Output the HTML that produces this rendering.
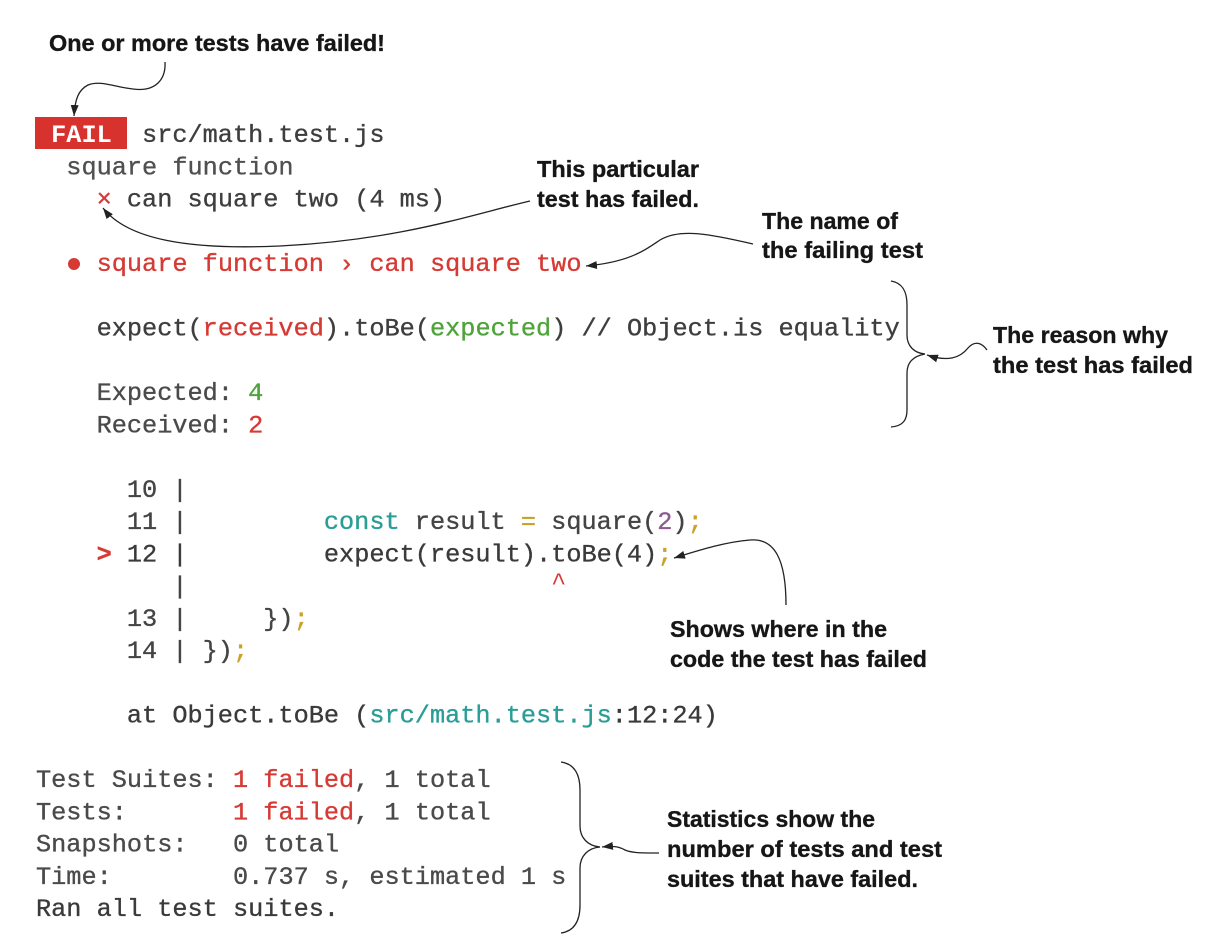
<!DOCTYPE html>
<html>
<head>
<meta charset="utf-8">
<style>
  html, body { margin: 0; padding: 0; background: #ffffff; }
  body { width: 1216px; height: 950px; overflow: hidden; }
  svg { display: block; }
  .m { font-family: "Liberation Mono", monospace; font-size: 25.25px; fill: #444444; white-space: pre; stroke: currentColor; stroke-width: 0; }
  .lbl { font-family: "Liberation Sans", sans-serif; font-weight: bold; font-size: 23.5px; fill: #161616; stroke: #161616; stroke-width: 0.35; }
  .r { fill: #d63a35; }
  .g { fill: #4ea43a; }
  .t { fill: #2a9d96; }
  .y { fill: #c9a227; }
  .p { fill: #8e5b8e; }
  .ln { fill: none; stroke: #222; stroke-width: 1.3; }
  .th { stroke-width: 0.35; }
</style>
</head>
<body>
<svg width="1216" height="950" viewBox="0 0 1216 950" xmlns="http://www.w3.org/2000/svg" xml:space="preserve">
  <defs>
    <marker id="ah" markerUnits="userSpaceOnUse" markerWidth="11" markerHeight="8" refX="11" refY="4" orient="auto">
      <path d="M0,0 L11,4 L0,8 z" fill="#222"/>
    </marker>
  </defs>

  <!-- Annotation labels -->
  <text class="lbl" x="49" y="51" font-size="25.5" textLength="336" lengthAdjust="spacingAndGlyphs">One or more tests have failed!</text>

  <text class="lbl" x="537" y="177" textLength="162" lengthAdjust="spacingAndGlyphs">This particular</text>
  <text class="lbl" x="537" y="207" textLength="162" lengthAdjust="spacingAndGlyphs">test has failed.</text>

  <text class="lbl" x="762" y="229" textLength="136" lengthAdjust="spacingAndGlyphs">The name of</text>
  <text class="lbl" x="762" y="258" textLength="161" lengthAdjust="spacingAndGlyphs">the failing test</text>

  <text class="lbl" x="993" y="343" textLength="175" lengthAdjust="spacingAndGlyphs">The reason why</text>
  <text class="lbl" x="993" y="373" textLength="200" lengthAdjust="spacingAndGlyphs">the test has failed</text>

  <text class="lbl" x="670" y="637" textLength="217" lengthAdjust="spacingAndGlyphs">Shows where in the</text>
  <text class="lbl" x="670" y="667" textLength="257" lengthAdjust="spacingAndGlyphs">code the test has failed</text>

  <text class="lbl" x="667" y="827" textLength="208" lengthAdjust="spacingAndGlyphs">Statistics show the</text>
  <text class="lbl" x="667" y="857" textLength="275" lengthAdjust="spacingAndGlyphs">number of tests and test</text>
  <text class="lbl" x="667" y="887" textLength="251" lengthAdjust="spacingAndGlyphs">suites that have failed.</text>

  <!-- FAIL badge -->
  <rect x="35" y="117" width="92" height="32" fill="#d8322e"/>
  <text class="m" x="51.15" y="142" style="fill:#ffffff;font-weight:bold">FAIL</text>
  <text class="m th" x="142.05" y="142" style="fill:#3e3e3e;stroke:#3e3e3e">src/math.test.js</text>

  <!-- line 1 -->
  <text class="m th" x="66.3" y="174.25" style="fill:#505050;stroke:#505050">square function</text>
  <!-- line 2 -->
  <text class="m th" x="96.6" y="206.5" style="fill:#3e3e3e;stroke:#3e3e3e"><tspan class="r" style="stroke:#d63a35">×</tspan> can square two (4 ms)</text>

  <!-- line 4 -->
  <circle cx="74" cy="264" r="6" fill="#d63a35"/>
  <text class="m r th" x="96.6" y="271" style="stroke:#d63a35">square function › can square two</text>

  <!-- line 6 -->
  <text class="m th" x="96.6" y="335.5" style="fill:#3e3e3e;stroke:#3e3e3e">expect(<tspan class="r" style="stroke:#d63a35">received</tspan>).toBe(<tspan class="g" style="stroke:#4ea43a">expected</tspan>) // Object.is equality</text>

  <!-- lines 8-9 -->
  <text class="m th" x="96.6" y="400" style="fill:#4a4a4a;stroke:#4a4a4a">Expected: <tspan class="g" style="stroke:#4ea43a">4</tspan></text>
  <text class="m th" x="96.6" y="432.25" style="fill:#4a4a4a;stroke:#4a4a4a">Received: <tspan class="r" style="stroke:#d63a35">2</tspan></text>

  <!-- code frame -->
  <text class="m th" x="126.9" y="496.75" style="fill:#444;stroke:#444">10 |</text>
  <text class="m th" x="126.9" y="529" style="fill:#444;stroke:#444">11 |         <tspan class="t" style="stroke:#2a9d96">const</tspan> result <tspan class="y" style="stroke:#c9a227">=</tspan> square(<tspan class="p" style="stroke:#8e5b8e">2</tspan>)<tspan class="y" style="stroke:#c9a227">;</tspan></text>
  <text class="m th" x="96.6" y="561.25" style="fill:#3a3a3a;stroke:#3a3a3a"><tspan class="r" font-weight="bold" style="stroke:#d63a35">&gt;</tspan> 12 |         expect(result).toBe(4)<tspan class="y" style="stroke:#c9a227">;</tspan></text>
  <text class="m th" x="172.35" y="593.5" style="fill:#444;stroke:#444">|</text>
  <text class="m r" x="551.1" y="590" font-size="20">^</text>
  <text class="m th" x="126.9" y="625.75" style="fill:#444;stroke:#444">13 |     })<tspan class="y" style="stroke:#c9a227">;</tspan></text>
  <text class="m th" x="126.9" y="658" style="fill:#444;stroke:#444">14 | })<tspan class="y" style="stroke:#c9a227">;</tspan></text>

  <!-- line 18 -->
  <text class="m th" x="126.9" y="722.5" style="fill:#3a3a3a;stroke:#3a3a3a">at Object.toBe (<tspan class="t" style="stroke:#2a9d96">src/math.test.js</tspan>:12:24)</text>

  <!-- stats -->
  <text class="m th" x="36" y="787" style="fill:#4a4a4a;stroke:#4a4a4a">Test Suites: <tspan class="r" style="stroke:#d63a35">1 failed</tspan>, 1 total</text>
  <text class="m th" x="36" y="819.25" style="fill:#4a4a4a;stroke:#4a4a4a">Tests:       <tspan class="r" style="stroke:#d63a35">1 failed</tspan>, 1 total</text>
  <text class="m th" x="36" y="851.5" style="fill:#4a4a4a;stroke:#4a4a4a">Snapshots:   0 total</text>
  <text class="m th" x="36" y="883.75" style="fill:#4a4a4a;stroke:#4a4a4a">Time:        0.737 s, estimated 1 s</text>
  <text class="m th" x="36" y="916" style="fill:#3a3a3a;stroke:#3a3a3a">Ran all test suites.</text>

  <!-- Connectors -->
  <path class="ln" marker-end="url(#ah)" d="M165,62 C166,80 155,92 133,89 C115,87 100,80 88,85 C78,90 75,100 74,116"/>
  <path class="ln" marker-end="url(#ah)" d="M530,201 C470,215 400,240 280,246 C190,250 128,240 103,208"/>
  <path class="ln" marker-end="url(#ah)" d="M753,244 C710,234 680,228 660,240 C645,250 630,262 586,266"/>
  <path class="ln" marker-end="url(#ah)" d="M987,350 C982,343 975,340 968,348 C960,358 948,362 927,355"/>
  <path class="ln" marker-end="url(#ah)" d="M786,605 C786,560 775,538 750,540 C725,542 700,550 674,558"/>
  <path class="ln" marker-end="url(#ah)" d="M659,853 C640,853 632,853 625,850 C618,846 612,846 602,847"/>

  <!-- Braces -->
  <path class="ln" d="M891,281 C903,283 907,292 907,305 L907,335 C907,346 914,353 925,354 C914,356 907,362 907,373 L907,410 C907,420 903,426 891,427"/>
  <path class="ln" d="M561,762 C575,764 580,775 580,790 L580,826 C580,838 588,846 600,847 C588,848 580,856 580,868 L580,905 C580,920 575,931 561,933"/>
</svg>
</body>
</html>
